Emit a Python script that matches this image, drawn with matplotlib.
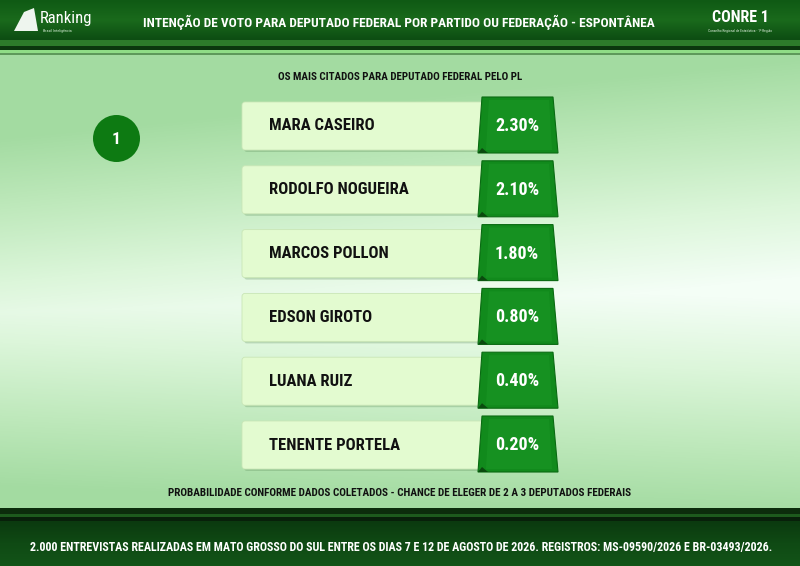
import numpy as np
import matplotlib
matplotlib.use("Agg")
import matplotlib.pyplot as plt
from matplotlib import font_manager as fm
from matplotlib.patches import FancyBboxPatch, Polygon, Circle, Rectangle
from matplotlib.colors import LinearSegmentedColormap

# ---------------- data ----------------
title = "INTENÇÃO DE VOTO PARA DEPUTADO FEDERAL POR PARTIDO OU FEDERAÇÃO - ESPONTÂNEA"
subtitle = "OS MAIS CITADOS PARA DEPUTADO FEDERAL PELO PL"
candidates = ["MARA CASEIRO", "RODOLFO NOGUEIRA", "MARCOS POLLON",
              "EDSON GIROTO", "LUANA RUIZ", "TENENTE PORTELA"]
percentages = [2.30, 2.10, 1.80, 0.80, 0.40, 0.20]
rank_label = "1"
note = "PROBABILIDADE CONFORME DADOS COLETADOS - CHANCE DE ELEGER DE 2 A 3 DEPUTADOS FEDERAIS"
footer = ("2.000 ENTREVISTAS REALIZADAS EM MATO GROSSO DO SUL ENTRE OS DIAS 7 E 12 DE AGOSTO DE 2026. "
          "REGISTROS: MS-09590/2026 E BR-03493/2026.")
logo_left = "Ranking"
logo_left_sub = "Brasil Inteligência"
logo_right = "CONRE 1"
logo_right_sub = "Conselho Regional de Estatística - 1ª Região"

# ---------------- fonts ----------------
avail = {(f.name, f.stretch) for f in fm.fontManager.ttflist}
names = {f.name for f in fm.fontManager.ttflist}
COND = {"family": "DejaVu Sans", "stretch": "normal"}
for cand in ["Roboto Condensed", "Liberation Sans Narrow", "Open Sans Condensed",
             "DejaVu Sans Condensed"]:
    if cand in names:
        COND = {"family": cand, "stretch": "normal"}
        break
else:
    if any(n == "DejaVu Sans" and s in ("condensed", "semi-condensed") for n, s in avail):
        COND = {"family": "DejaVu Sans", "stretch": "condensed"}

def ctext(x, y, s, size, color="black", ha="center", weight="bold", **kw):
    ax.text(x, y, s, fontsize=size, color=color, ha=ha, va="center",
            fontweight=weight, fontfamily=COND["family"],
            fontstretch=COND["stretch"], zorder=20, **kw)

W, H = 800, 566
fig = plt.figure(figsize=(8.0, 5.66), dpi=100)
ax = fig.add_axes([0, 0, 1, 1])
ax.set_xlim(0, W)
ax.set_ylim(H, 0)
ax.axis("off")

# ---------------- background gradient ----------------
yy, xx = np.mgrid[0:H, 0:W].astype(float)
band_center = 300 - (xx - 400) * 0.03
d = np.abs(yy - band_center) / 220.0
d = d + (1 - xx / W) * 0.25 - 0.05
d = np.clip(d, 0, 1)
bg_cmap = LinearSegmentedColormap.from_list(
    "bg", ["#f4fef6", "#dcf6da", "#bfe9bc", "#a3dba1"])
ax.imshow(d, cmap=bg_cmap, extent=(0, W, H, 0), zorder=0, aspect="auto",
          interpolation="bilinear", vmin=0, vmax=1)

# ---------------- header ----------------
hdr = np.linspace(0, 1, 40).reshape(-1, 1)
hdr_cmap = LinearSegmentedColormap.from_list("hdr", ["#0f5a14", "#1a6a1c", "#0d4d12"])
ax.imshow(hdr, cmap=hdr_cmap, extent=(0, W, 40, 0), zorder=1, aspect="auto")
ax.add_patch(Rectangle((0, 40), W, 6, color="#2d7a2a", zorder=1, lw=0))
ax.add_patch(Rectangle((0, 46), W, 4, color="#0b360d", zorder=1, lw=0))
ax.add_patch(Rectangle((0, 50), W, 2.5, color="#8fdc86", zorder=1, lw=0))
ax.add_patch(Rectangle((0, 52.5), W, 2, color="#2f6e2c", zorder=1, lw=0, alpha=0.6))
ctext(399, 22, title, 9.6, color="white")
ctext(40, 19, logo_left, 12, color="white", ha="left", weight="normal")
ctext(43, 31, logo_left_sub, 3, color="#cfe8cf", ha="left", weight="normal")
ax.add_patch(Polygon([(14, 31), (24, 12), (34, 8), (38, 31)], closed=True,
                     color="#eef5ee", zorder=5, lw=0))
ctext(740, 17, logo_right, 11.5, color="white")
ctext(740, 31, logo_right_sub, 2.6, color="#dfefdf", weight="normal")

# ---------------- subtitle ----------------
ctext(400, 77, subtitle, 7.9, color="#111111")

# ---------------- rank circle ----------------
ax.add_patch(Circle((116.5, 138.5), 23.5, color="#0d7a12", zorder=5, lw=0))
ctext(116.5, 139.5, rank_label, 12.5, color="white")

# ---------------- rows ----------------
y0, pitch = 126, 63.8
for i, (name, pct) in enumerate(zip(candidates, percentages)):
    yc = y0 + i * pitch
    # shadow
    ax.add_patch(FancyBboxPatch((244, yc - 22), 240, 48,
                                boxstyle="round,pad=0,rounding_size=3",
                                fc="#5e8f5a", ec="none", alpha=0.30, zorder=3))
    # name box
    ax.add_patch(FancyBboxPatch((242, yc - 24), 241, 48,
                                boxstyle="round,pad=0,rounding_size=3",
                                fc="#e3fbd0", ec="#c9e6b6", lw=0.6, zorder=4))
    # pct box (trapezoid)
    ax.add_patch(Polygon([(478, yc + 27), (558, yc + 27), (553, yc - 29), (482, yc - 29)],
                         closed=True, fc="#118a1c", ec="#0a6a12", lw=0.8, zorder=6))
    ax.add_patch(Polygon([(486, yc + 24), (552, yc + 24), (549, yc - 26), (489, yc - 26)],
                         closed=True, fc="#1b9826", ec="none", alpha=0.55, zorder=6))
    ax.add_patch(Polygon([(478, yc + 27), (488, yc + 27), (482, yc + 22)],
                         closed=True, fc="#0a4a0e", ec="none", zorder=7))
    ctext(269, yc, name, 12, color="#111111", ha="left")
    ctext(517, yc, f"{pct:.2f}%", 13, color="white")

# ---------------- note ----------------
ctext(400, 493, note, 8.0, color="#111111")

# ---------------- footer ----------------
ax.add_patch(Rectangle((0, 508), W, 6, color="#0c2c0c", zorder=1, lw=0))
ax.add_patch(Rectangle((0, 514), W, 3, color="#1d5a1d", zorder=1, lw=0))
ax.add_patch(Rectangle((0, 517), W, 4, color="#08200a", zorder=1, lw=0))
ftr = np.linspace(0, 1, 45).reshape(-1, 1)
ftr_cmap = LinearSegmentedColormap.from_list("ftr", ["#0b3a0f", "#0f4a14", "#135418"])
ax.imshow(ftr, cmap=ftr_cmap, extent=(0, W, H, 521), zorder=1, aspect="auto")
ctext(401, 547, footer, 8.65, color="white")

fig.savefig("out.png", dpi=100)
